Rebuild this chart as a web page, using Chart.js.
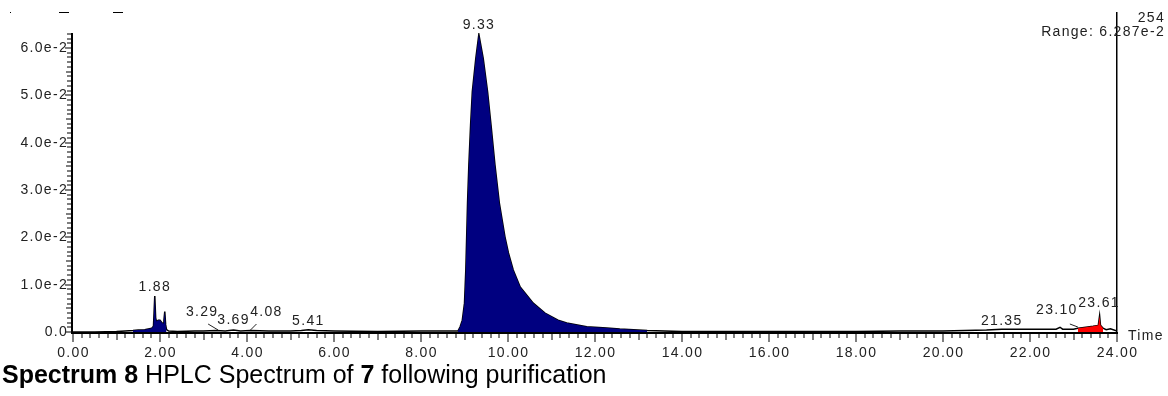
<!DOCTYPE html>
<html>
<head>
<meta charset="utf-8">
<script src="https://cdn.jsdelivr.net/npm/chart.js@4"></script>
<style>
  html, body { margin: 0; padding: 0; background: #fff; }
  #wrap { position: relative; width: 1168px; height: 396px; overflow: hidden; }
  #chart { position: absolute; left: 0; top: 0; }
  #caption {
    position: absolute; left: 2px; top: 362px;
    font: 25px/25px "Liberation Sans", Arial, sans-serif;
    color: #000; white-space: nowrap;
  }
</style>
</head>
<body>
<div id="wrap">
  <canvas id="chart" width="1168" height="396"></canvas>
  <div id="caption"><b>Spectrum 8</b> HPLC Spectrum of <b>7</b> following purification</div>
</div>
<script>
// UV trace at 254 nm: retention time (min) and absorbance (AU)
const retentionTimes = [
  0.00, 0.50, 1.00, 1.20, 1.38, 1.50, 1.65, 1.81, 1.85, 1.88, 1.90, 1.92, 1.96, 2.00,
  2.04, 2.07, 2.09, 2.11, 2.13, 2.15, 2.20, 2.40, 2.80, 3.00, 3.29, 3.50, 3.69, 3.85,
  4.08, 4.50, 5.00, 5.25, 5.41, 5.60, 6.00, 7.00, 8.00, 8.85, 8.90, 8.95, 9.00, 9.03,
  9.05, 9.07, 9.10, 9.14, 9.18, 9.26, 9.33, 9.43, 9.53, 9.61, 9.70, 9.80, 9.93, 10.01,
  10.12, 10.28, 10.58, 10.85, 11.15, 11.35, 11.81, 12.27, 12.57, 13.20, 14.00, 16.00,
  18.00, 19.00, 20.00, 20.50, 21.00, 21.35, 22.00, 22.60, 22.69, 22.75, 23.00, 23.10,
  23.20, 23.45, 23.57, 23.60, 23.62, 23.68, 23.75, 23.85, 24.00
];
const absorbance = [
  0.0000, 0.0000, 0.0001, 0.0002, 0.0003, 0.0004, 0.0005, 0.0008, 0.0012, 0.0076, 0.0030, 0.0022, 0.0025, 0.0025,
  0.0020, 0.0018, 0.0025, 0.0043, 0.0015, 0.0005, 0.0002, 0.0001, 0.0002, 0.0002, 0.0003, 0.0002, 0.0004, 0.0002,
  0.0003, 0.0002, 0.0002, 0.0003, 0.0005, 0.0003, 0.0002, 0.0001, 0.0002, 0.0002, 0.0011, 0.0025, 0.0061, 0.0131,
  0.0201, 0.0273, 0.0353, 0.0437, 0.0508, 0.0578, 0.06287, 0.0578, 0.0508, 0.0437, 0.0353, 0.0273, 0.0201, 0.0167,
  0.0131, 0.0095, 0.0061, 0.0040, 0.0025, 0.0019, 0.0011, 0.00085, 0.00063, 0.0003, 0.0001, 0.0001,
  0.0001, 0.0002, 0.0002, 0.0003, 0.0004, 0.0006, 0.0006, 0.0006, 0.0010, 0.0006, 0.0006, 0.0008,
  0.0009, 0.0012, 0.0014, 0.0034, 0.0014, 0.0008, 0.0005, 0.0007, 0.0002
];

// Integrated peak windows (start, end in min)
const windowStarts = [1.38, 8.85, 23.08];
const windowEnds   = [2.15, 13.20, 23.68];

// Annotated peak retention times
const peakTimes = [1.88, 3.29, 3.69, 4.08, 5.41, 9.33, 21.35, 23.10, 23.61];

// Axis ticks
const xTickLabels = ['0.00','2.00','4.00','6.00','8.00','10.00','12.00','14.00','16.00','18.00','20.00','22.00','24.00'];
const yTickLabels = ['0.0','1.0e-2','2.0e-2','3.0e-2','4.0e-2','5.0e-2','6.0e-2'];
const channelName = '254';
const rangeText = 'Range: 6.287e-2';

const tracePoints = retentionTimes.map((t, i) => ({ x: t, y: absorbance[i] }));
const windowColours = ['#000080', '#000080', '#ff0000'];
const fillSets = windowStarts.map((s, k) => ({
  data: tracePoints.filter(p => p.x >= s && p.x <= windowEnds[k]),
  fill: 'origin',
  backgroundColor: windowColours[k],
  borderWidth: 0,
  pointRadius: 0,
  tension: 0
}));

const FONT = '14px "Liberation Sans", Arial, sans-serif';

// Label placement: horizontal offset from the peak, height above the baseline, optional leader line
const labelLayout = {
  '1.88':  { dx: 0,   dy: 45 },
  '3.29':  { dx: -14, dy: 20, leader: [-8, 12, 2, 2] },
  '3.69':  { dx: 0,   dy: 12 },
  '4.08':  { dx: 16,  dy: 20, leader: [6, 12, 0, 2] },
  '5.41':  { dx: 0,   dy: 11 },
  '9.33':  { dx: 0,   top: 25 },
  '21.35': { dx: 0,   dy: 11 },
  '23.10': { dx: -21, dy: 22, leader: [-8, 14, 0, 5] },
  '23.61': { dx: -1,  dy: 29 }
};

const axesPlugin = {
  id: 'hplcAxes',
  afterDatasetsDraw(chart) {
    const { ctx, chartArea: a, scales: { x, y } } = chart;
    ctx.save();
    ctx.fillStyle = '#000';
    ctx.strokeStyle = '#000';
    const y0 = y.getPixelForValue(0);

    // axis lines
    ctx.fillRect(a.left, a.bottom, a.right - a.left + 1, 2);
    ctx.fillRect(a.left - 2, a.top, 2, a.bottom - a.top + 2);
    ctx.fillRect(a.right - 1, 12, 1.5, a.bottom - 12 + 2);

    // x ticks every 0.2 min
    for (let i = 0; i <= 120; i++) {
      const px = Math.round(x.getPixelForValue(i * 0.2)) - 0.5;
      const len = i % 10 === 0 ? 8 : (i % 5 === 0 ? 6 : 4);
      ctx.fillRect(px, a.bottom + 2, 1, len);
    }
    // y ticks every 0.001 AU
    for (let j = 0; j <= 63; j++) {
      const py = Math.round(y.getPixelForValue(j * 0.001)) - 0.5;
      const len = j % 10 === 0 ? 6 : (j % 5 === 0 ? 5 : 4);
      ctx.fillRect(a.left - 2 - len, py, len, 1);
    }

    ctx.font = FONT;
    ctx.letterSpacing = '1.3px';
    ctx.fillStyle = '#222';
    ctx.textBaseline = 'middle';
    ctx.textAlign = 'center';
    xTickLabels.forEach((lab, i) => {
      ctx.fillText(lab, x.getPixelForValue(i * 2) + 0.5, a.bottom + 21);
    });
    ctx.textAlign = 'right';
    yTickLabels.forEach((lab, j) => {
      ctx.fillText(lab, a.left - 5, y.getPixelForValue(j * 0.01));
    });
    ctx.textAlign = 'left';
    ctx.fillText('Time', a.right + 11, a.bottom + 4);
    ctx.textAlign = 'right';
    ctx.fillText(channelName, 1165, 18);
    ctx.fillText(rangeText, 1165, 32);

    // peak annotations
    ctx.textAlign = 'center';
    ctx.lineWidth = 1;
    ctx.strokeStyle = '#222';
    peakTimes.forEach(t => {
      const key = t.toFixed(2);
      const L = labelLayout[key];
      const px = x.getPixelForValue(t);
      const ly = L.top !== undefined ? L.top : y0 - L.dy;
      ctx.fillText(key, px + L.dx, ly);
      if (L.leader) {
        const [sx, sy, ex, ey] = L.leader;
        ctx.beginPath();
        ctx.moveTo(px + sx, ly + sy);
        ctx.lineTo(px + ex, y0 - ey);
        ctx.stroke();
      }
    });

    // clipped header marks at top left
    ctx.fillStyle = '#000';
    ctx.fillRect(10, 12, 1, 1);
    ctx.fillRect(59, 12, 10, 1);
    ctx.fillRect(113, 12, 10, 1);
    ctx.restore();
  }
};

new Chart(document.getElementById('chart'), {
  type: 'line',
  data: {
    datasets: [
      ...fillSets,
      {
        data: tracePoints,
        borderColor: '#000',
        borderWidth: 1.5,
        fill: false,
        pointRadius: 0,
        tension: 0
      }
    ]
  },
  options: {
    responsive: false,
    animation: false,
    devicePixelRatio: 1,
    layout: { padding: { left: 73, right: 51, top: 33, bottom: 64 } },
    scales: {
      x: { type: 'linear', min: 0, max: 24, display: false },
      y: { type: 'linear', min: 0, max: 0.06317, display: false }
    },
    plugins: { legend: { display: false }, tooltip: { enabled: false } }
  },
  plugins: [axesPlugin]
});
</script>
</body>
</html>
